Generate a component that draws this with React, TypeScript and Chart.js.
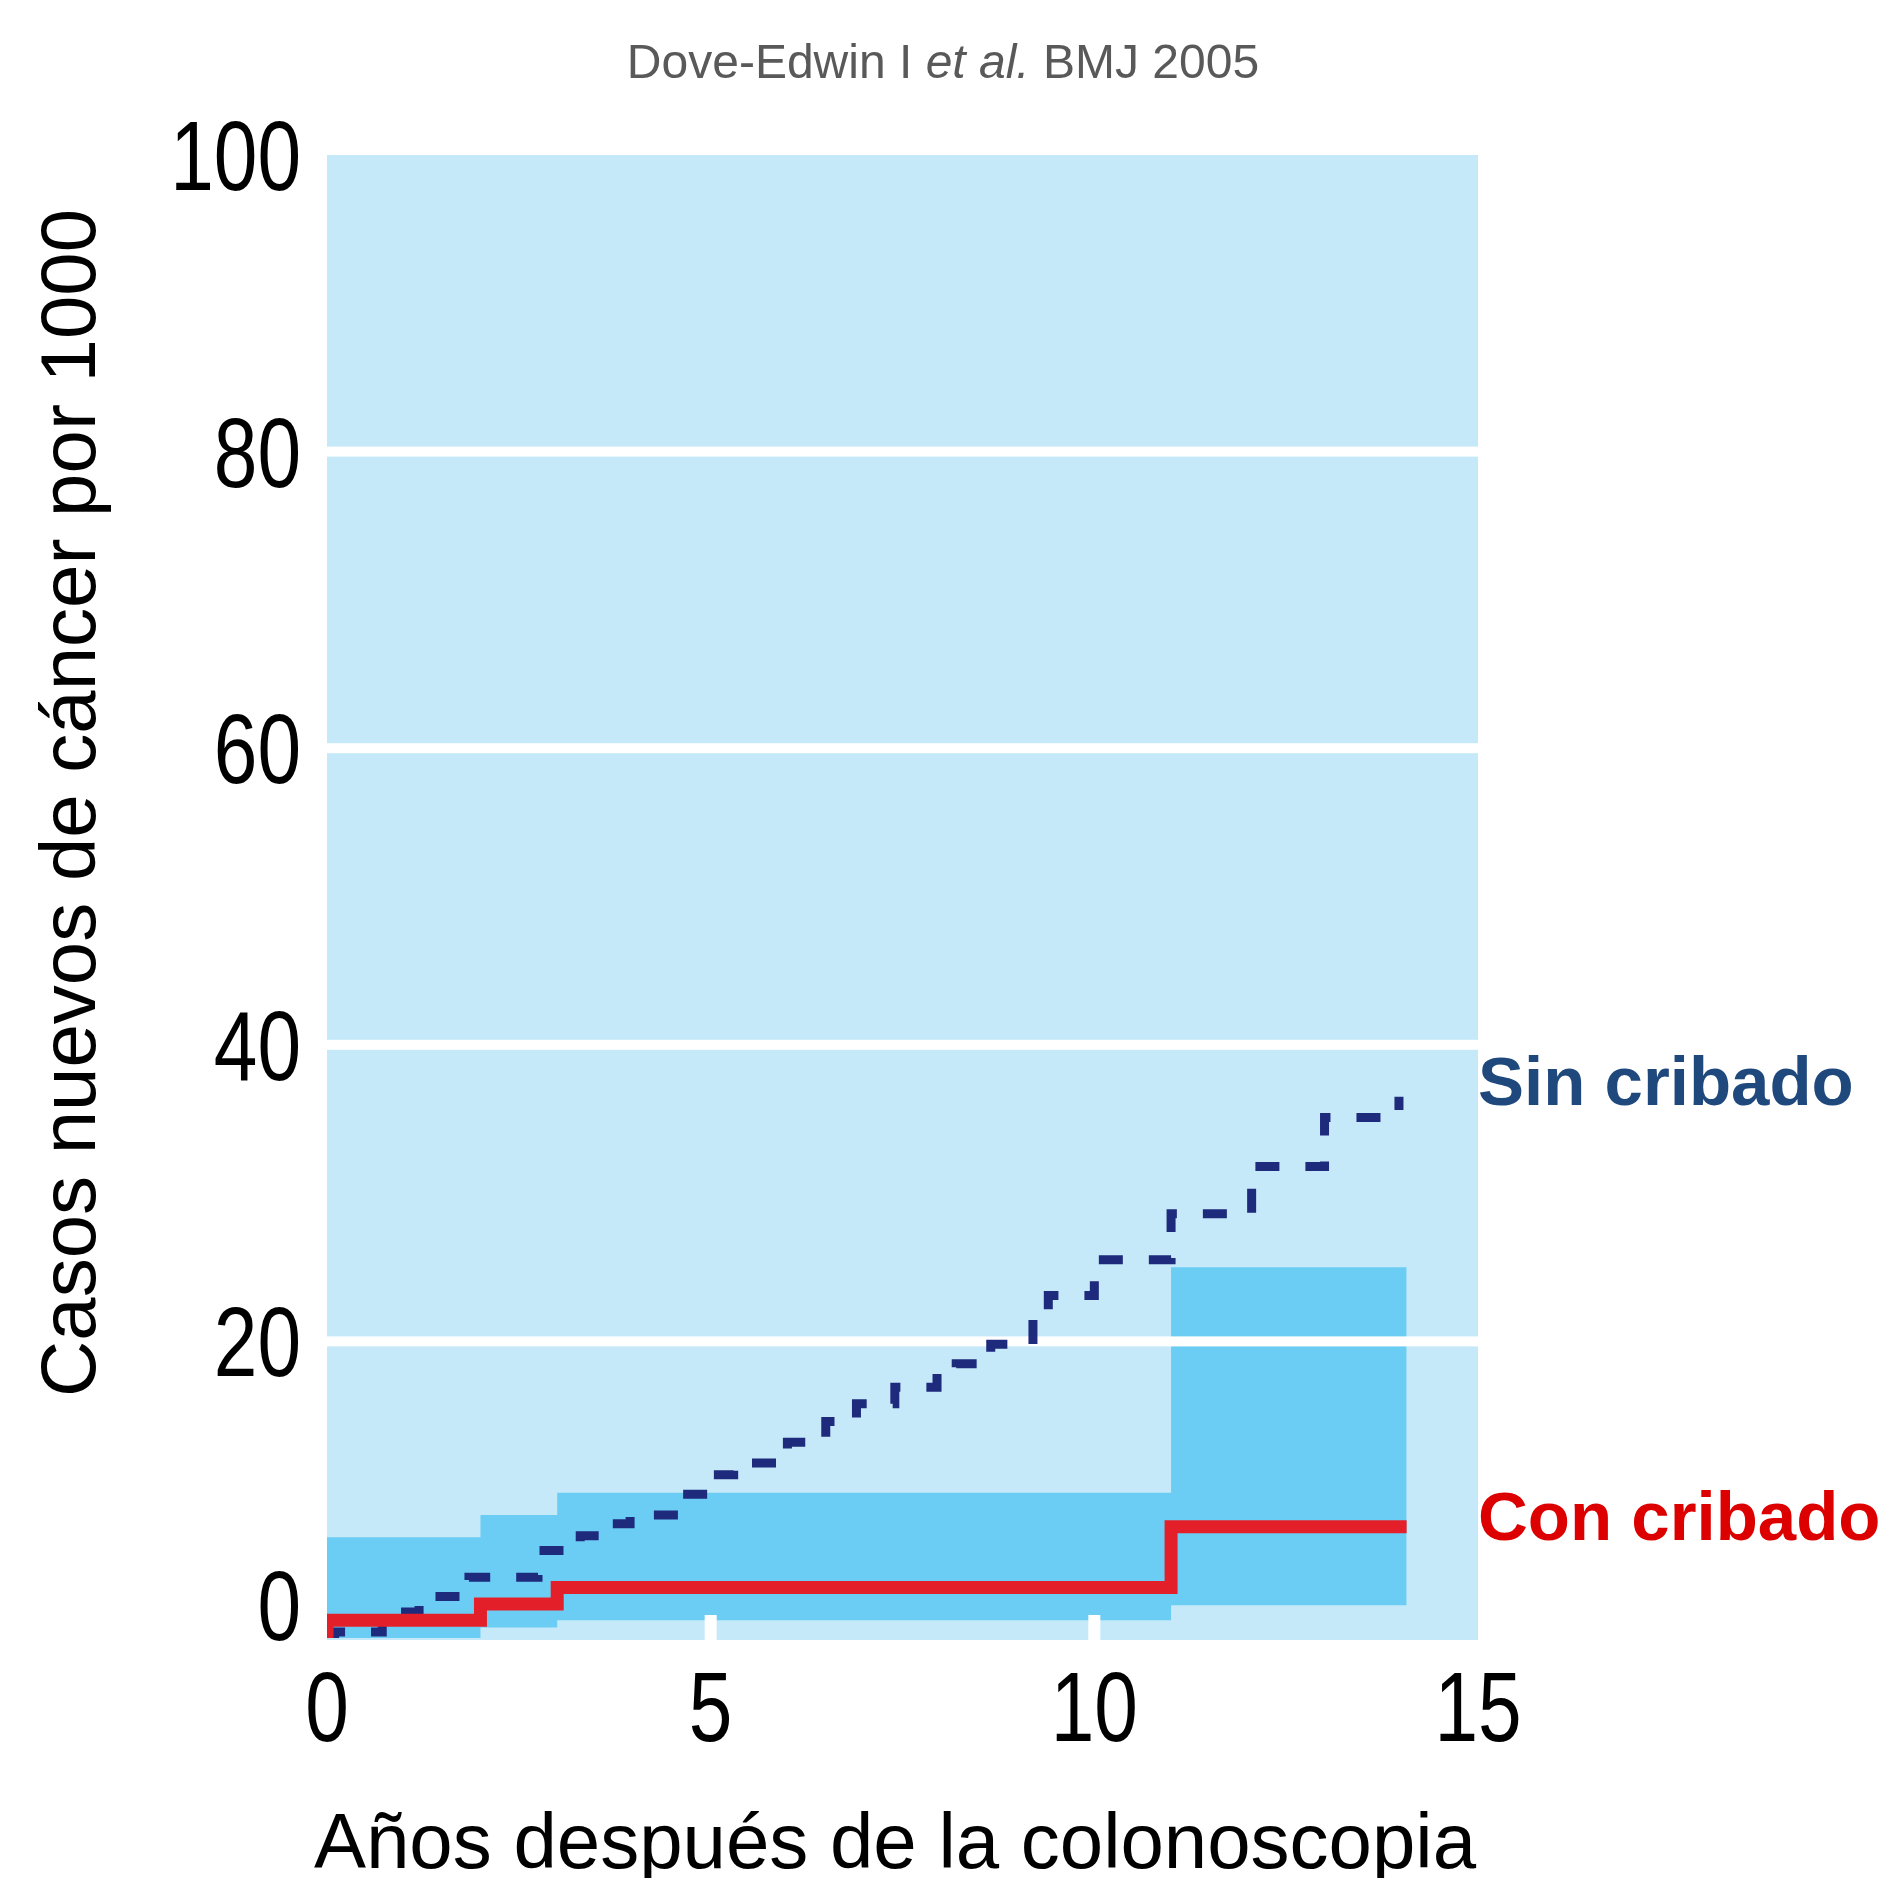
import React, { useEffect, useRef } from 'react';
import { Chart, registerables } from 'chart.js';

Chart.register(...registerables);

// ---- Data ----
const TITLE_PARTS = ['Dove-Edwin I ', 'et al.', ' BMJ 2005'];
const X_TITLE = 'Años después de la colonoscopia';
const Y_TITLE = 'Casos nuevos de cáncer por 1000';
const SERIES_LABELS = ['Sin cribado', 'Con cribado'];
const X_TICK_STEP = 5;
const Y_TICK_STEP = 20;
const GRID_VALUES = [20, 40, 60, 80];
const X_MARK_VALUES = [5, 10];

// Sin cribado (no screening) cumulative incidence, step function
const sinYears = [0, 0.1, 0.72, 1.2, 1.85, 2.75, 3.3, 3.56, 3.95, 4.6, 5.0, 5.3, 6.0, 6.5, 6.9, 7.4, 7.95, 8.2, 8.65, 9.2, 9.4, 10.0, 11.0, 12.05, 13.0, 13.97];
const sinValues = [0, 0.4, 1.75, 2.8, 4.1, 5.9, 6.9, 7.7, 8.3, 9.7, 11.0, 11.8, 13.2, 14.6, 15.8, 16.9, 17.8, 18.5, 19.8, 21.5, 23.1, 25.5, 28.6, 31.8, 35.1, 36.5];

// Con cribado (screening) cumulative incidence
const conYears = [0, 0, 2, 3, 11, 14.07];
const conValues = [0, 1.2, 2.3, 3.4, 7.5, 7.5];

// Confidence band for Con cribado
const bandYears = [0, 2, 3, 11, 14.07];
const bandUpper = [6.8, 8.3, 9.8, 25.0, 25.0];
const bandLower = [0, 0.7, 1.2, 2.2, 2.2];

// ---- Styles ----
const BG = '#c5e9f9';
const BAND = '#6ccdf4';
const NAVY = '#1e2a7c';
const RED = '#e3202a';
const TEXT_FONT = "'Liberation Sans', Arial, sans-serif";
const TICK_FONT_SIZE = 98;
const TICK_SQUEEZE = 0.8;

const pts = (xs: number[], ys: number[]) => xs.map((x, i) => ({ x, y: ys[i] }));

function squeezedText(ctx: any, text: string, x: number, y: number, align: string) {
  ctx.save();
  ctx.translate(x, y);
  ctx.scale(TICK_SQUEEZE, 1);
  ctx.textAlign = align;
  ctx.textBaseline = 'alphabetic';
  ctx.fillText(text, 0, 0);
  ctx.restore();
}

const decorPlugin = {
  id: 'decor',
  beforeDraw(chart: any) {
    const { ctx, chartArea: a } = chart;
    ctx.save();
    ctx.fillStyle = BG;
    ctx.fillRect(a.left, a.top, a.right - a.left, a.bottom - a.top + 2);
    ctx.restore();
  },
  beforeDatasetDraw(chart: any, args: any) {
    if (args.index !== 2) return;
    const { ctx, chartArea: a } = chart;
    const ys = chart.scales.y;
    const xs = chart.scales.x;
    ctx.save();
    ctx.fillStyle = '#ffffff';
    GRID_VALUES.forEach((v) => {
      const py = ys.getPixelForValue(v);
      ctx.fillRect(a.left, py - 5, a.right - a.left, 10);
    });
    X_MARK_VALUES.forEach((v) => {
      const px = xs.getPixelForValue(v);
      ctx.fillRect(px - 6, a.bottom - 23, 12, 25);
    });
    ctx.restore();
  },
  afterDraw(chart: any) {
    const { ctx, chartArea: a } = chart;
    const xs = chart.scales.x;
    const ys = chart.scales.y;
    ctx.save();

    // Tick labels (condensed digits)
    ctx.fillStyle = '#000000';
    ctx.font = `${TICK_FONT_SIZE}px ${TEXT_FONT}`;
    ys.ticks.forEach((t: any) => {
      const py = ys.getPixelForValue(t.value);
      const base = t.value === 0 ? py + 2 : py + 35;
      squeezedText(ctx, String(t.value), a.left - 26, base, 'right');
    });
    xs.ticks.forEach((t: any) => {
      const px = xs.getPixelForValue(t.value);
      squeezedText(ctx, String(t.value), px, 1741, 'center');
    });

    // Title
    const fonts = [`48px ${TEXT_FONT}`, `italic 48px ${TEXT_FONT}`, `48px ${TEXT_FONT}`];
    let total = 0;
    const widths = TITLE_PARTS.map((t, i) => {
      ctx.font = fonts[i];
      const w = ctx.measureText(t).width;
      total += w;
      return w;
    });
    let x = 943 - total / 2;
    ctx.fillStyle = '#595959';
    ctx.textBaseline = 'alphabetic';
    ctx.textAlign = 'left';
    TITLE_PARTS.forEach((t, i) => {
      ctx.font = fonts[i];
      ctx.fillText(t, x, 78);
      x += widths[i];
    });

    // X title
    ctx.fillStyle = '#000000';
    ctx.font = `78px ${TEXT_FONT}`;
    ctx.textAlign = 'center';
    ctx.fillText(X_TITLE, 895, 1868);

    // Y title
    ctx.save();
    ctx.translate(95, 803);
    ctx.rotate(-Math.PI / 2);
    ctx.font = `78px ${TEXT_FONT}`;
    ctx.textAlign = 'center';
    ctx.fillText(Y_TITLE, 0, 0);
    ctx.restore();

    // Series labels
    ctx.textAlign = 'left';
    ctx.font = `bold 69px ${TEXT_FONT}`;
    ctx.fillStyle = '#1f497d';
    ctx.fillText(SERIES_LABELS[0], 1478, 1105);
    ctx.fillStyle = '#dd0000';
    ctx.fillText(SERIES_LABELS[1], 1478, 1540);
    ctx.restore();
  },
};

export default function App() {
  const canvasRef = useRef<HTMLCanvasElement | null>(null);

  useEffect(() => {
    document.body.style.margin = '0';
    const canvas = canvasRef.current;
    if (!canvas) return;
    const chart = new Chart(canvas, {
      type: 'line',
      data: {
        datasets: [
          {
            label: 'IC superior',
            data: pts(bandYears, bandUpper),
            stepped: 'before',
            borderWidth: 0,
            borderColor: 'rgba(0,0,0,0)',
            backgroundColor: BAND,
            fill: '+1',
            pointRadius: 0,
            order: 3,
          },
          {
            label: 'IC inferior',
            data: pts(bandYears, bandLower),
            stepped: 'before',
            borderWidth: 0,
            borderColor: 'rgba(0,0,0,0)',
            fill: false,
            pointRadius: 0,
            order: 3,
          },
          {
            label: SERIES_LABELS[0],
            data: pts(sinYears, sinValues),
            stepped: 'before',
            borderColor: NAVY,
            borderWidth: 9,
            borderDash: [24, 26],
            borderCapStyle: 'butt',
            fill: false,
            pointRadius: 0,
            order: 1,
          },
          {
            label: SERIES_LABELS[1],
            data: pts(conYears, conValues),
            stepped: 'before',
            borderColor: RED,
            borderWidth: 13,
            borderJoinStyle: 'miter',
            borderCapStyle: 'butt',
            fill: false,
            pointRadius: 0,
            order: 0,
          },
        ],
      },
      options: {
        responsive: false,
        maintainAspectRatio: false,
        animation: false,
        events: [],
        layout: { padding: { top: 155, right: 409, left: 0, bottom: 0 } },
        plugins: {
          legend: { display: false },
          tooltip: { enabled: false },
          title: { display: false },
        },
        scales: {
          x: {
            type: 'linear',
            min: 0,
            max: 15,
            ticks: { stepSize: X_TICK_STEP, display: false },
            grid: { display: false, drawTicks: false },
            border: { display: false },
            afterFit(s: any) {
              s.height = 240;
            },
          },
          y: {
            type: 'linear',
            min: 0,
            max: 100,
            ticks: { stepSize: Y_TICK_STEP, display: false },
            grid: { display: false, drawTicks: false },
            border: { display: false },
            afterFit(s: any) {
              s.width = 327;
            },
          },
        },
      },
      plugins: [decorPlugin],
    } as any);
    return () => chart.destroy();
  }, []);

  return (
    <div style={{ width: 1887, height: 1878, background: '#ffffff' }}>
      <canvas ref={canvasRef} width={1887} height={1878} style={{ display: 'block' }} />
    </div>
  );
}
